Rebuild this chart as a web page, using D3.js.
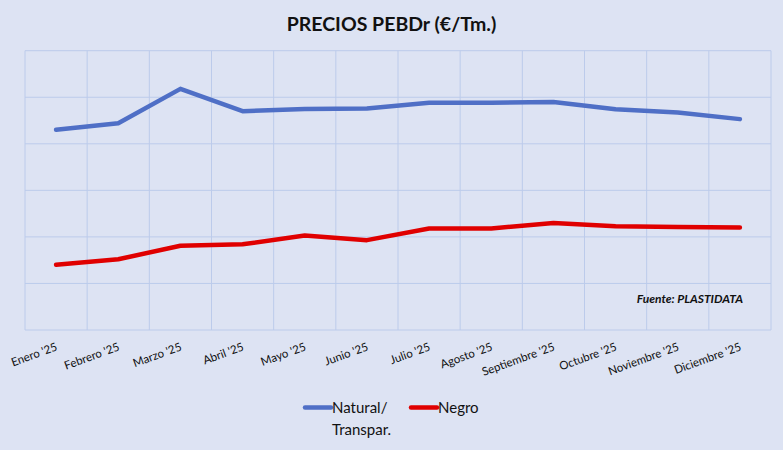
<!DOCTYPE html>
<html>
<head>
<meta charset="utf-8">
<script src="https://cdn.jsdelivr.net/npm/d3@7"></script>
<style>
  html, body { margin: 0; padding: 0; background: #dde3f3; }
  svg { display: block; font-family: Lato, "Open Sans", sans-serif; }
</style>
</head>
<body>
<svg id="chart"></svg>
<script>
const width = 783;
const height = 450;

// Data (€/Tm., estimated - the chart has no y labels)
const months = ["Enero '25", "Febrero '25", "Marzo '25", "Abril '25", "Mayo '25", "Junio '25",
    "Julio '25", "Agosto '25", "Septiembre '25", "Octubre '25", "Noviembre '25", "Diciembre '25"];
const natural = [930, 944, 1018, 970, 975, 976, 988, 988, 990, 974, 967, 953];
const negro = [640, 652, 681, 684, 703, 693, 718, 718, 730, 723, 721, 720];
const yTicks = [500, 600, 700, 800, 900, 1000, 1100];

const series = [
    {name: ["Natural/", "Transpar."], values: natural, color: "#4f6fc6"},
    {name: ["Negro"], values: negro, color: "#e00000"}
];

const margin = {top: 50.7, right: 12, bottom: 120, left: 25};

const svg = d3.select("#chart")
    .attr("width", width)
    .attr("height", height);

svg.append("rect")
    .attr("width", width)
    .attr("height", height)
    .attr("fill", "#dde3f3");

const x = d3.scaleBand()
    .domain(months)
    .range([margin.left, width - margin.right]);

const y = d3.scaleLinear()
    .domain([500, 1100])
    .range([height - margin.bottom, margin.top]);

// horizontal gridlines
svg.append("g")
    .selectAll("line")
    .data(yTicks)
    .enter().append("line")
    .attr("x1", margin.left)
    .attr("x2", width - margin.right)
    .attr("y1", d => y(d))
    .attr("y2", d => y(d))
    .attr("stroke", "#bccbeb")
    .attr("stroke-width", 1);

// vertical gridlines at band edges
const edges = months.map(m => x(m)).concat([width - margin.right]);
svg.append("g")
    .selectAll("line")
    .data(edges)
    .enter().append("line")
    .attr("x1", d => d)
    .attr("x2", d => d)
    .attr("y1", margin.top)
    .attr("y2", height - margin.bottom)
    .attr("stroke", "#bccbeb")
    .attr("stroke-width", 1);

// month labels, rotated
svg.append("g")
    .selectAll("text")
    .data(months)
    .enter().append("text")
    .attr("transform", d => {
        const cx = x(d) + x.bandwidth() / 2 + 2;
        return `translate(${cx},${height - margin.bottom + 20}) rotate(-20)`;
    })
    .attr("text-anchor", "end")
    .attr("font-size", 11.5)
    .attr("fill", "#111")
    .text(d => d);

const line = d3.line()
    .x((d, i) => x(months[i]) + x.bandwidth() / 2)
    .y(d => y(d));

svg.append("g")
    .selectAll("path")
    .data(series)
    .enter().append("path")
    .attr("d", d => line(d.values))
    .attr("fill", "none")
    .attr("stroke", d => d.color)
    .attr("stroke-width", 4.5)
    .attr("stroke-linecap", "round")
    .attr("stroke-linejoin", "round");

// title
svg.append("text")
    .attr("x", width / 2)
    .attr("y", 31)
    .attr("text-anchor", "middle")
    .attr("font-size", 19.5)
    .attr("font-weight", "bold")
    .attr("fill", "#111")
    .text("PRECIOS PEBDr (€/Tm.)");

// source note
svg.append("text")
    .attr("x", 743)
    .attr("y", 303)
    .attr("text-anchor", "end")
    .attr("font-size", 12)
    .attr("font-weight", "bold")
    .attr("font-style", "italic")
    .attr("fill", "#111")
    .text("Fuente: PLASTIDATA");

// legend
const legendX = [305, 411];
const legend = svg.append("g")
    .selectAll("g")
    .data(series)
    .enter().append("g")
    .attr("transform", (d, i) => `translate(${legendX[i]},407.5)`);

legend.append("line")
    .attr("x1", 0)
    .attr("x2", 26)
    .attr("stroke", d => d.color)
    .attr("stroke-width", 4.5)
    .attr("stroke-linecap", "round");

legend.append("text")
    .attr("x", 27)
    .attr("y", 5)
    .attr("font-size", 15)
    .attr("fill", "#111")
    .selectAll("tspan")
    .data(d => d.name)
    .enter().append("tspan")
    .attr("x", 27)
    .attr("dy", (d, i) => i === 0 ? 0 : 22)
    .text(d => d);
</script>
</body>
</html>
